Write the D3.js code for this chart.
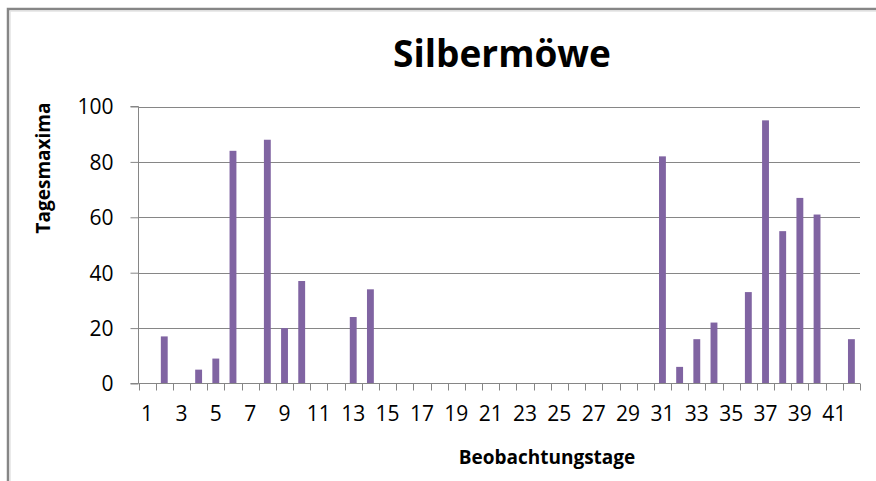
<!DOCTYPE html>
<html>
<head>
<meta charset="utf-8">
<script src="https://cdn.jsdelivr.net/npm/d3@7"></script>
<style>
  html, body { margin: 0; padding: 0; background: #ffffff; }
  svg { display: block; }
  text { font-family: "Open Sans", "Liberation Sans", sans-serif; fill: #000; }
</style>
</head>
<body>
<svg id="chart" width="876" height="481"></svg>
<script>
const chartTitle = "Silbermöwe";
const xTitle = "Beobachtungstage";
const yTitle = "Tagesmaxima";
const categories = d3.range(1, 43);          // observation days 1..42
const values = [null, 17, null, 5, 9, 84, null, 88, 20, 37, null, null, 24, 34,
                null, null, null, null, null, null, null, null, null, null, null, null, null, null, null, null,
                82, 6, 16, 22, null, 33, 95, 55, 67, 61, null, 16];
const xTickLabels = d3.range(1, 42, 2);      // 1,3,...,41
const yTicks = [0, 20, 40, 60, 80, 100];

const data = categories.map((c, i) => ({ day: c, value: values[i] }));

const svg = d3.select("#chart");
const W = 876, H = 481;
const plot = { left: 138.5, right: 860, top: 106.5, bottom: 383.5 };

// outer chart border (cropped at right and bottom)
svg.append("path")
  .attr("d", `M8,${H} V9 H${W}`)
  .attr("fill", "none").attr("stroke", "#868686").attr("stroke-width", 2.5);
svg.append("path")
  .attr("d", `M10.2,${H} V11.2 H${W}`)
  .attr("fill", "none").attr("stroke", "#d9d9d9").attr("stroke-width", 0.8);

const x = d3.scaleBand().domain(categories).range([plot.left, plot.right]).paddingInner(0).paddingOuter(0);
const y = d3.scaleLinear().domain([0, 100]).range([plot.bottom, plot.top]);

const gridColor = "#868686";

// gridlines
svg.append("g").selectAll("line").data(yTicks.filter(t => t > 0)).join("line")
  .attr("x1", plot.left).attr("x2", plot.right)
  .attr("y1", d => Math.round(y(d)) + 0.5).attr("y2", d => Math.round(y(d)) + 0.5)
  .attr("stroke", gridColor).attr("stroke-width", 1);

// bars
const barW = x.bandwidth() * 0.4;
svg.append("g").selectAll("rect").data(data.filter(d => d.value != null)).join("rect")
  .attr("x", d => x(d.day) + (x.bandwidth() - barW) / 2)
  .attr("width", barW)
  .attr("y", d => y(d.value))
  .attr("height", d => y(0) - y(d.value))
  .attr("fill", "#8064a2");

// y axis
const yAxis = d3.axisLeft(y).tickValues(yTicks).tickSize(8).tickPadding(17).tickFormat(d3.format("d"));
const gy = svg.append("g").attr("transform", `translate(${plot.left},0)`).call(yAxis);
gy.select(".domain").attr("stroke", gridColor).attr("d", `M-8,${plot.top}H0V${plot.bottom}H-8`);
gy.selectAll(".tick line").attr("stroke", gridColor);
gy.selectAll(".tick text").style("font-size", "21px").attr("fill", "#000").attr("dy", "0.35em")
  .style("font-family", '"Open Sans", sans-serif');

// x axis: tick marks at category boundaries
const bounds = categories.map(c => x(c)).concat([plot.right]);
svg.append("g").selectAll("line").data(bounds).join("line")
  .attr("x1", d => Math.round(d) + 0.5).attr("x2", d => Math.round(d) + 0.5)
  .attr("y1", plot.bottom).attr("y2", plot.bottom + 7)
  .attr("stroke", gridColor);
svg.append("line")
  .attr("x1", plot.left).attr("x2", plot.right)
  .attr("y1", plot.bottom).attr("y2", plot.bottom)
  .attr("stroke", gridColor);

// x tick labels
svg.append("g").selectAll("text").data(xTickLabels).join("text")
  .attr("x", d => x(d) + x.bandwidth() / 2)
  .attr("y", 421)
  .attr("text-anchor", "middle")
  .style("font-size", "21px")
  .text(d => d);

// titles
svg.append("text").attr("x", 502).attr("y", 67).attr("text-anchor", "middle")
  .style("font-size", "37px").style("font-weight", "bold").text(chartTitle);

svg.append("text").attr("x", 547).attr("y", 464).attr("text-anchor", "middle")
  .style("font-size", "19px").style("font-weight", "bold").text(xTitle);

svg.append("text").attr("transform", "translate(50,168) rotate(-90)").attr("text-anchor", "middle")
  .style("font-size", "19px").style("font-weight", "bold").text(yTitle);
</script>
</body>
</html>
